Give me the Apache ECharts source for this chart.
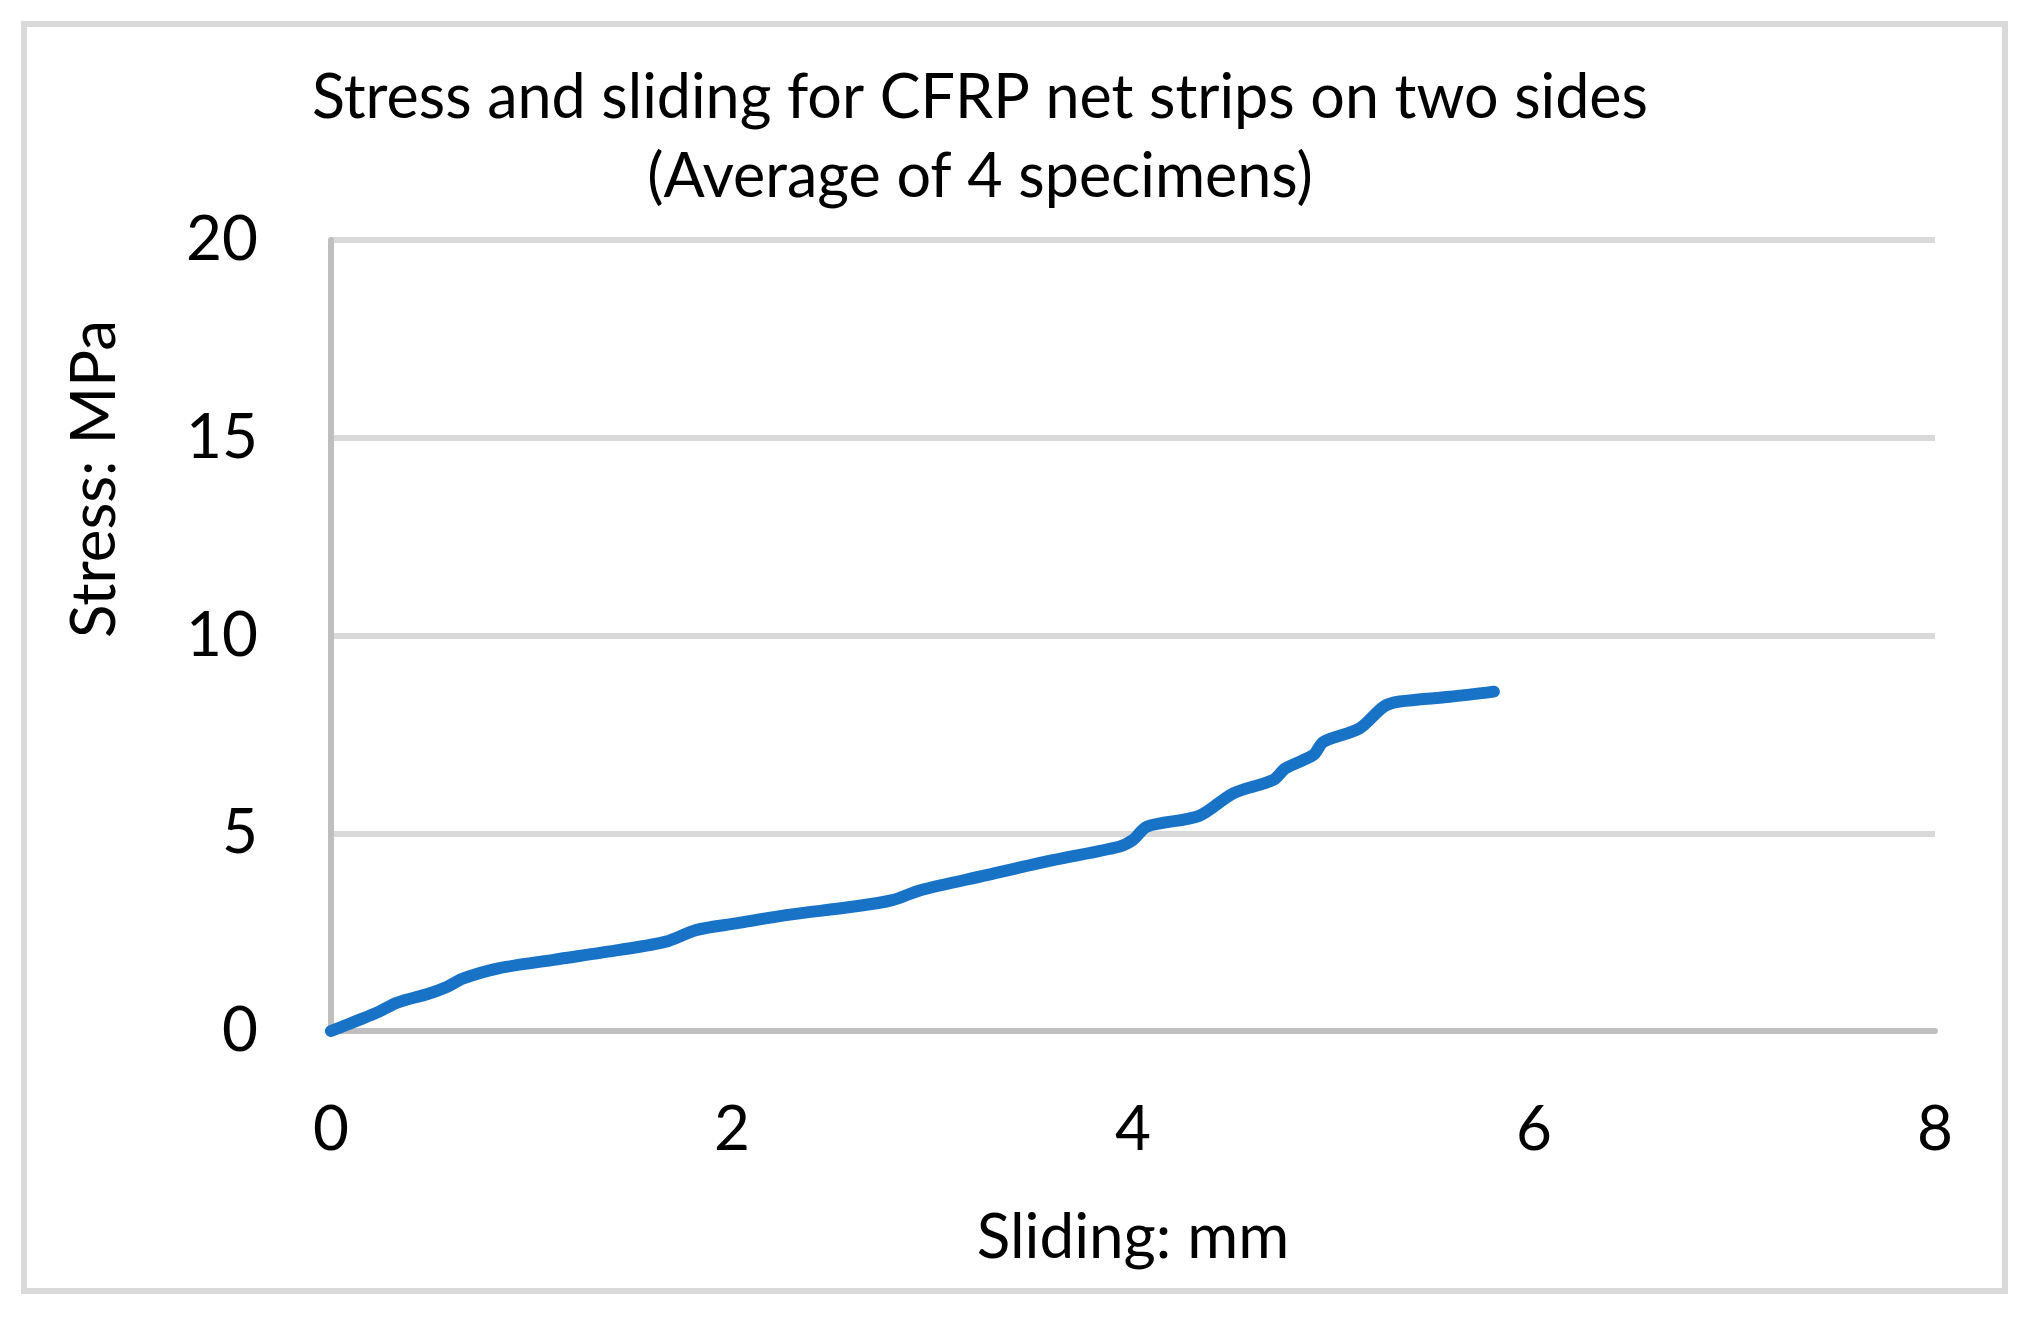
<!DOCTYPE html>
<html>
<head>
<meta charset="utf-8">
<script src="https://cdn.jsdelivr.net/npm/echarts@6/dist/echarts.min.js"></script>
<style>
html,body{margin:0;padding:0;background:#fff;}
#chart{width:2030px;height:1324px;}
</style>
</head>
<body>
<div id="chart"></div>
<script>
const titleLines = ['Stress and sliding for CFRP net strips on two sides', '(Average of 4 specimens)'];
const xAxisName = 'Sliding: mm';
const yAxisName = 'Stress: MPa';
const xTicks = [0, 2, 4, 6, 8];
const yTicks = [0, 5, 10, 15, 20];
const sliding = [0, 0.14, 0.24, 0.33, 0.49, 0.58, 0.66, 0.84, 1.11, 1.44, 1.67, 1.82, 2.02, 2.27, 2.60, 2.80, 2.94, 3.27, 3.60, 3.93, 4.00, 4.07, 4.33, 4.50, 4.70, 4.76, 4.90, 4.95, 5.13, 5.25, 5.33, 5.58, 5.80];
const stress = [0, 0.28, 0.49, 0.72, 0.95, 1.12, 1.33, 1.59, 1.80, 2.05, 2.26, 2.55, 2.72, 2.93, 3.14, 3.31, 3.56, 3.94, 4.32, 4.66, 4.83, 5.17, 5.44, 6.01, 6.35, 6.64, 6.98, 7.31, 7.65, 8.20, 8.33, 8.45, 8.58];

const FONT = 'Lato, "Open Sans", sans-serif';
const chart = echarts.init(document.getElementById('chart'), null, {renderer: 'canvas'});
chart.setOption({
  backgroundColor: '#ffffff',
  animation: false,
  title: {
    text: titleLines.join('\n'),
    left: 975,
    top: 54,
    textAlign: 'center',
    textStyle: {fontFamily: FONT, fontSize: 61, fontWeight: 'normal', color: '#000', lineHeight: 79}
  },
  graphic: [
    {type: 'rect', shape: {x: 24, y: 24, width: 1981, height: 1267}, style: {fill: 'none', stroke: '#d9d9d9', lineWidth: 6}, silent: true, z: -1},
    {type: 'text', x: 95, y: 479, rotation: Math.PI / 2,
     style: {text: yAxisName, fontFamily: FONT, fontSize: 62, fill: '#000', align: 'center', verticalAlign: 'middle'}}
  ],
  grid: {left: 331, right: 95, top: 240, bottom: 293, containLabel: false},
  xAxis: {
    type: 'value', min: xTicks[0], max: xTicks[xTicks.length - 1], interval: 2,
    name: xAxisName, nameLocation: 'middle', nameGap: 176,
    nameTextStyle: {fontFamily: FONT, fontSize: 62, color: '#000'},
    axisLine: {show: true, onZero: false, lineStyle: {color: '#bfbfbf', width: 6}},
    axisTick: {show: false},
    axisLabel: {fontFamily: FONT, fontSize: 62, color: '#000', margin: 68},
    splitLine: {show: false}
  },
  yAxis: {
    type: 'value', min: yTicks[0], max: yTicks[yTicks.length - 1], interval: 5,
    axisLine: {show: true, lineStyle: {color: '#bfbfbf', width: 6}},
    axisTick: {show: false},
    axisLabel: {fontFamily: FONT, fontSize: 62, color: '#000', margin: 73},
    splitLine: {show: true, lineStyle: {color: '#d9d9d9', width: 6}}
  },
  series: [{
    type: 'line',
    data: sliding.map((x, i) => [x, stress[i]]),
    showSymbol: false,
    smooth: 0.3,
    clip: true,
    lineStyle: {color: '#1872c6', width: 12, cap: 'round', join: 'round'}
  }]
});
</script>
</body>
</html>
